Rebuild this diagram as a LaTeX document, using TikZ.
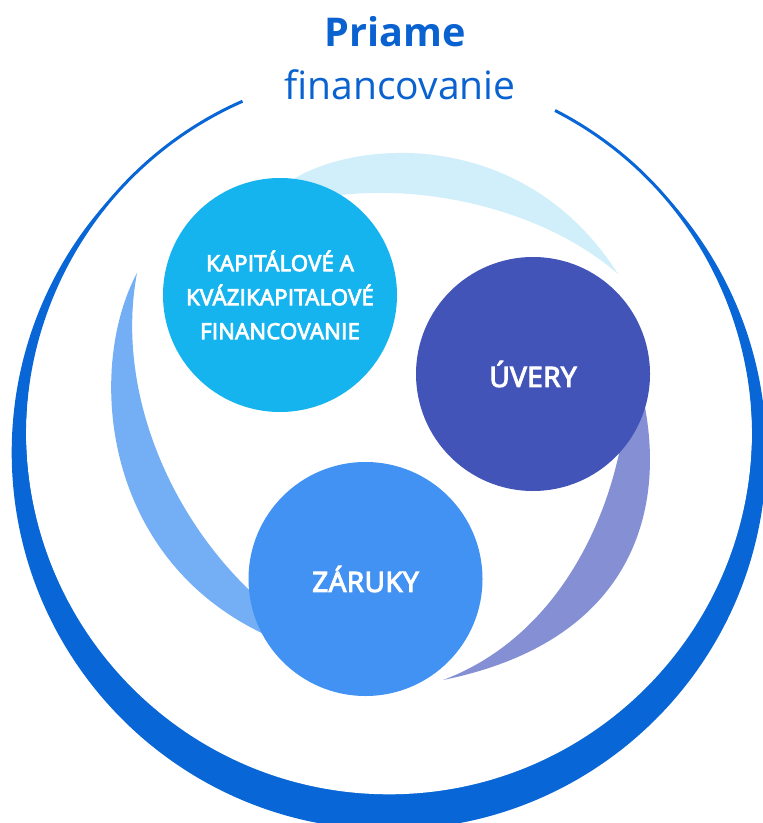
\documentclass[tikz,border=0pt]{standalone}
\usepackage{fontspec}
\setmainfont{Open Sans}
\newfontfamily\semib{Open Sans}[FakeBold=4, LetterSpace=1.5]
\definecolor{ringblue}{HTML}{0866D6}
\definecolor{titleblue}{HTML}{0A62D0}
\definecolor{kapc}{HTML}{16B4EF}
\definecolor{kapl}{HTML}{D1EFFA}
\definecolor{zarc}{HTML}{4192F3}
\definecolor{zarl}{HTML}{74AFF6}
\definecolor{uvc}{HTML}{4354B9}
\definecolor{uvl}{HTML}{8590D4}
\tikzset{
  bubble/.style={circle, inner sep=0pt, minimum size=117pt, text=white, font=\semib\fontsize{14}{17}\selectfont, align=center},
  smallbubble/.style={bubble, font=\semib\fontsize{11}{17}\selectfont}
}
\begin{document}
\begin{tikzpicture}[x=0.5pt,y=-0.5pt]
\useasboundingbox (0,0) rectangle (762,823);
% outer ring (thick crescent at the bottom)
\fill[ringblue] (389,452.4) circle[radius=377.3];
\fill[white] (389,431.3) circle[radius=363];
\coordinate (ringc) at (389,435);
\draw[ringblue, line width=1.5pt] (ringc) ++(-62.9:364.5) arc[start angle=-62.9, end angle=246.3, radius=364.5];
% title
\node[anchor=base, text=titleblue, font=\bfseries\fontsize{19.8}{24}\selectfont] (title1) at (395.5,46.7) {Priame};
\node[anchor=base, text=titleblue, font=\fontsize{19.5}{24}\selectfont] (title2) at (400,100) {financovanie};
% swooshes
\fill[kapl] (282,187) .. controls (340,140) and (520,120) .. (618,274)
  .. controls (545,210) and (420,180) .. (320,198) -- cycle;
\fill[zarl] (137,273) .. controls (85,370) and (100,575) .. (290,645)
  -- (260,600) .. controls (170,520) and (115,390) .. (137,273) -- cycle;
\fill[uvl] (640,385) .. controls (670,500) and (640,640) .. (443,680)
  .. controls (550,640) and (610,530) .. (625,420) -- cycle;
% circles
\node[smallbubble, fill=kapc] (kap) at (280,295) {KAPITÁLOVÉ A\\KVÁZIKAPITALOVÉ\\FINANCOVANIE};
\node[bubble, fill=uvc] (uvery) at (533,374) {ÚVERY};
\node[bubble, fill=zarc] (zaruky) at (365.5,579) {ZÁRUKY};
\end{tikzpicture}
\end{document}
